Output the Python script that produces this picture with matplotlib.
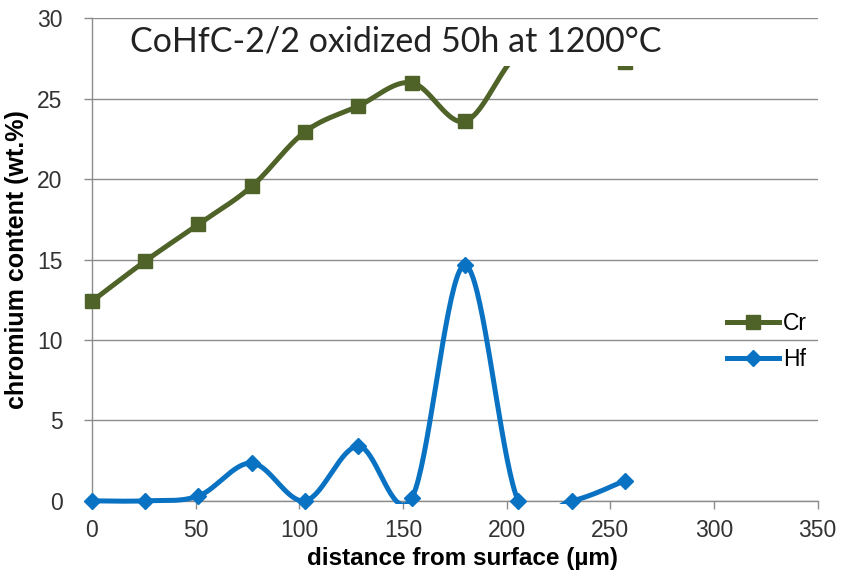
import numpy as np
import matplotlib
matplotlib.use("Agg")
import matplotlib.pyplot as plt
from matplotlib.patches import Rectangle

# data (distance in um, content in wt.%)
distance = [0, 25.7, 51.4, 77.1, 102.8, 128.5, 154.2, 179.9, 205.6, 231.3, 257.0]
cr = [12.4, 14.9, 17.2, 19.55, 22.95, 24.55, 26.0, 23.6, 27.8, 28.6, 27.3]
hf = [0.0, 0.0, 0.3, 2.35, 0.0, 3.4, 0.15, 14.65, 0.0, 0.0, 1.25]

title = "CoHfC-2/2 oxidized 50h at 1200°C"
xlabel = "distance from surface (µm)"
ylabel = "chromium content (wt.%)"

CR_COLOR = "#4f6228"
HF_COLOR = "#0a72c2"
GRID = "#8c8c8c"


def smooth(x, y, n=40):
    # Excel style smoothed line: bezier with catmull-rom control points
    p = np.column_stack([x, y]).astype(float)
    p = np.vstack([p[0], p, p[-1]])
    t = np.linspace(0, 1, n)[:, None]
    out = []
    for i in range(1, len(p) - 2):
        p0, p1, p2, p3 = p[i - 1], p[i], p[i + 1], p[i + 2]
        c1 = p1 + (p2 - p0) / 6
        c2 = p2 - (p3 - p1) / 6
        seg = ((1 - t) ** 3 * p1 + 3 * (1 - t) ** 2 * t * c1
               + 3 * (1 - t) * t ** 2 * c2 + t ** 3 * p2)
        out.append(seg if i == 1 else seg[1:])
    out = np.vstack(out)
    return out[:, 0], out[:, 1]


plt.rcParams['font.family'] = ['Liberation Sans', 'DejaVu Sans']

fig = plt.figure(figsize=(8.5, 5.75), dpi=100)
ax = fig.add_axes([0.108, 0.129, 0.854, 0.839])

ax.set_xlim(0, 350)
ax.set_ylim(0, 30)
ax.set_xticks(np.arange(0, 351, 50))
ax.set_yticks(np.arange(0, 31, 5))
ax.yaxis.grid(True, color=GRID, linewidth=1.0)
ax.set_axisbelow(True)
for s in ["top", "right"]:
    ax.spines[s].set_visible(False)
for s in ["left", "bottom"]:
    ax.spines[s].set_color(GRID)
    ax.spines[s].set_linewidth(1.0)
ax.tick_params(axis="both", colors=GRID, length=6, width=1.0,
               labelsize=16.5, labelcolor="#333333")
ax.tick_params(axis="y", pad=15)
ax.tick_params(axis="x", pad=7)

# lines are clipped to the plot area (slightly below 0 so the zero line stays whole)
clip = Rectangle((0, -0.006), 1, 1.006, transform=ax.transAxes, visible=False)
ax.add_patch(clip)

sx, sy = smooth(distance, cr)
l1, = ax.plot(sx, sy, color=CR_COLOR, linewidth=3.6, solid_capstyle="round", zorder=3)
l1.set_clip_path(clip)
ax.plot(distance, cr, linestyle="none", marker="s", markersize=9.5,
        color=CR_COLOR, zorder=4, clip_on=False)

sx, sy = smooth(distance, hf)
l2, = ax.plot(sx, sy, color=HF_COLOR, linewidth=3.6, solid_capstyle="round", zorder=3)
l2.set_clip_path(clip)
ax.plot(distance, hf, linestyle="none", marker="D", markersize=8,
        color=HF_COLOR, zorder=4, clip_on=False)

# legend handles
ax.plot([], [], color=CR_COLOR, linewidth=3.6, marker="s", markersize=9.5, label="Cr")
ax.plot([], [], color=HF_COLOR, linewidth=3.6, marker="D", markersize=8, label="Hf")
handles, labels = ax.get_legend_handles_labels()
ax.legend(handles[-2:], labels[-2:], loc="center left", bbox_to_anchor=(0.846, 0.33),
          frameon=False, fontsize=16.5, handlelength=2.3, handletextpad=0.15,
          labelspacing=0.6)

# title sits in a white text box that hides the top of the Cr curve
ax.add_patch(Rectangle((0.032, 0.902), 0.806, 0.095, transform=ax.transAxes,
                       facecolor="white", edgecolor="none", zorder=5, clip_on=False))
ax.text(0.419, 0.953, title, transform=ax.transAxes, ha="center", va="center",
        fontsize=24.5, family=["Lato", "DejaVu Sans"], color="#222222", zorder=6)

ax.set_xlabel(xlabel, fontsize=17.5, fontweight="bold")
ax.xaxis.set_label_coords(0.511, -0.096)
ax.set_ylabel(ylabel, fontsize=18, fontweight="bold", labelpad=6)

fig.savefig("out.png", dpi=100)
